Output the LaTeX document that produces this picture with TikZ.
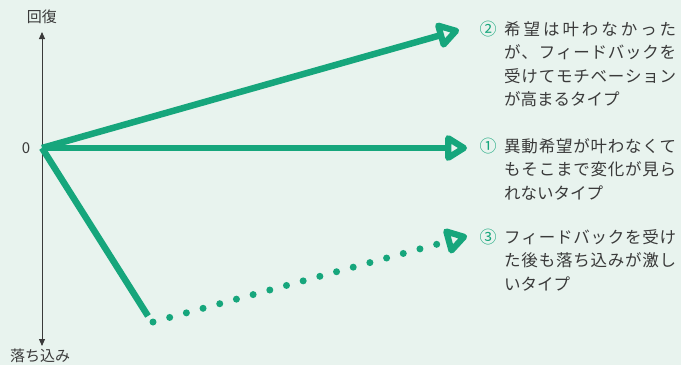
\documentclass[tikz,border=0pt]{standalone}
\usepackage{fontspec}
\setmainfont{Noto Sans CJK JP}
\usetikzlibrary{arrows.meta}
\definecolor{bgc}{HTML}{E8F3EE}
\definecolor{grn}{HTML}{16A67C}
\definecolor{txt}{HTML}{3A3A3A}
\newcommand\jst[1]{\makebox[172pt][s]{\jsthead#1\relax}}
\def\jsthead#1{#1\jsttail}
\def\jsttail#1{\ifx#1\relax\else\hfill#1\expandafter\jsttail\fi}
\begin{document}
\begin{tikzpicture}[x=1pt,y=-1pt,
  gtip/.tip={Triangle[open,length=25pt,width=29pt,round,fill=bgc]},
  garrow/.style={draw=grn,line width=6.5pt,-gtip},
  gline/.style={draw=grn,line width=6.5pt},
  gdots/.style={draw=grn,line width=7pt,line cap=round,dash pattern=on 0pt off 17.3pt,-gtip},
  axis/.style={draw=txt,line width=0.9pt},
  desc/.style={anchor=north west,inner sep=0pt,align=left,text=txt,font=\fontsize{16.5}{23.6}\selectfont},
  num/.style={anchor=north,inner sep=0pt,text=grn,font=\fontsize{17}{18}\selectfont},
  lab/.style={inner sep=0pt,text=txt,font=\fontsize{15}{18}\selectfont}]
\fill[bgc] (0,0) rectangle (681,365);
\useasboundingbox (0,0) rectangle (681,365);
% axis
\coordinate (O) at (42,148);
\coordinate (Atop) at (42,32);
\coordinate (Abot) at (42,346);
\draw[axis,-{Triangle[length=7pt,width=6pt]}] (O) -- (Atop);
\draw[axis,-{Triangle[length=7pt,width=6pt]}] (O) -- (Abot);
\node[lab] (up) at (42,17) {回復};
\node[lab] (down) at (40,356) {落ち込み};
\node[lab] (zero) at (26,148) {0};
% arrows
\coordinate (T1) at (467,148);
\coordinate (T2) at (459,30);
\coordinate (B1) at (148,316);
\coordinate (B2) at (153,322);
\coordinate (T3) at (467,236);
\draw[garrow] (O) -- (T1);
\draw[garrow] (O) -- (T2);
\draw[gline] (O) -- (B1);
\draw[gdots] (B2) -- (T3);
% texts
\node[num] (n2) at (488,21) {②};
\node[desc] (t2) at (504,21) {\jst{希望は叶わなかった}\\\jst{が、フィードバックを}\\\jst{受けてモチベーション}\\が高まるタイプ};
\node[num] (n1) at (488,138) {①};
\node[desc] (t1) at (504,138) {\jst{異動希望が叶わなくて}\\\jst{もそこまで変化が見ら}\\れないタイプ};
\node[num] (n3) at (488,229) {③};
\node[desc] (t3) at (504,229) {\jst{フィードバックを受け}\\\jst{た後も落ち込みが激し}\\いタイプ};
\end{tikzpicture}
\end{document}
